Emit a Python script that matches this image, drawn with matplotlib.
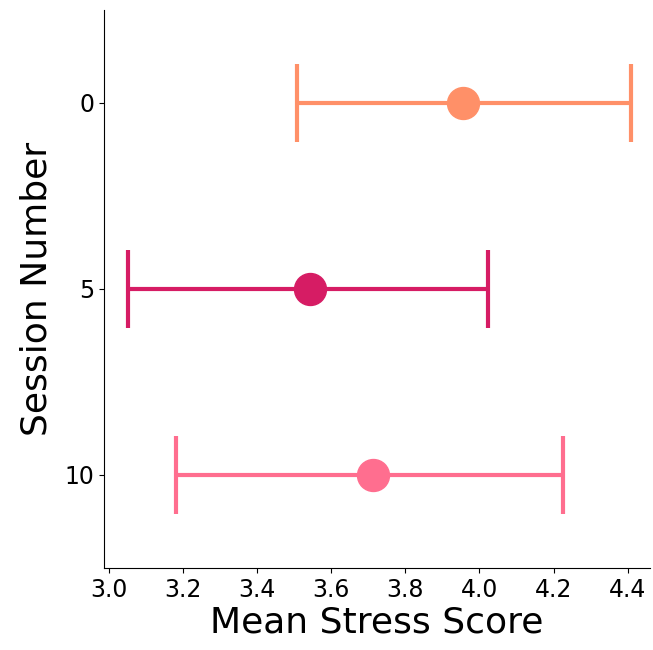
import numpy as np
import matplotlib
matplotlib.use("Agg")
import matplotlib.pyplot as plt

# session categories and stress score summary
sessions = ["0", "5", "10"]
means = np.array([3.955, 3.542, 3.712])
ci_low = np.array([3.507, 3.051, 3.181])
ci_high = np.array([4.408, 4.022, 4.225])
colors = ["#FF9068", "#D61C64", "#FF6E8F"]

fig = plt.figure(figsize=(6.53, 6.5), dpi=100)
ax = fig.add_axes([104 / 653, 82 / 650, 546 / 653, 558 / 650])

pos = np.arange(len(sessions))
for i in range(len(sessions)):
    err = [[means[i] - ci_low[i]], [ci_high[i] - means[i]]]
    ax.errorbar(means[i], pos[i], xerr=err, fmt="o", color=colors[i],
                ecolor=colors[i], elinewidth=3, capsize=28, capthick=3,
                markersize=23)

ax.set_yticks(pos)
ax.set_yticklabels(sessions)
ax.set_ylim(2.5, -0.5)
ax.set_xlim(2.987, 4.46)
ax.set_xticks(np.arange(3.0, 4.41, 0.2))
ax.tick_params(labelsize=17)
ax.set_xlabel("Mean Stress Score", fontsize=26, labelpad=3)
ax.set_ylabel("Session Number", fontsize=26, labelpad=8)
ax.spines["top"].set_visible(False)
ax.spines["right"].set_visible(False)

fig.savefig("out.png", dpi=100)
